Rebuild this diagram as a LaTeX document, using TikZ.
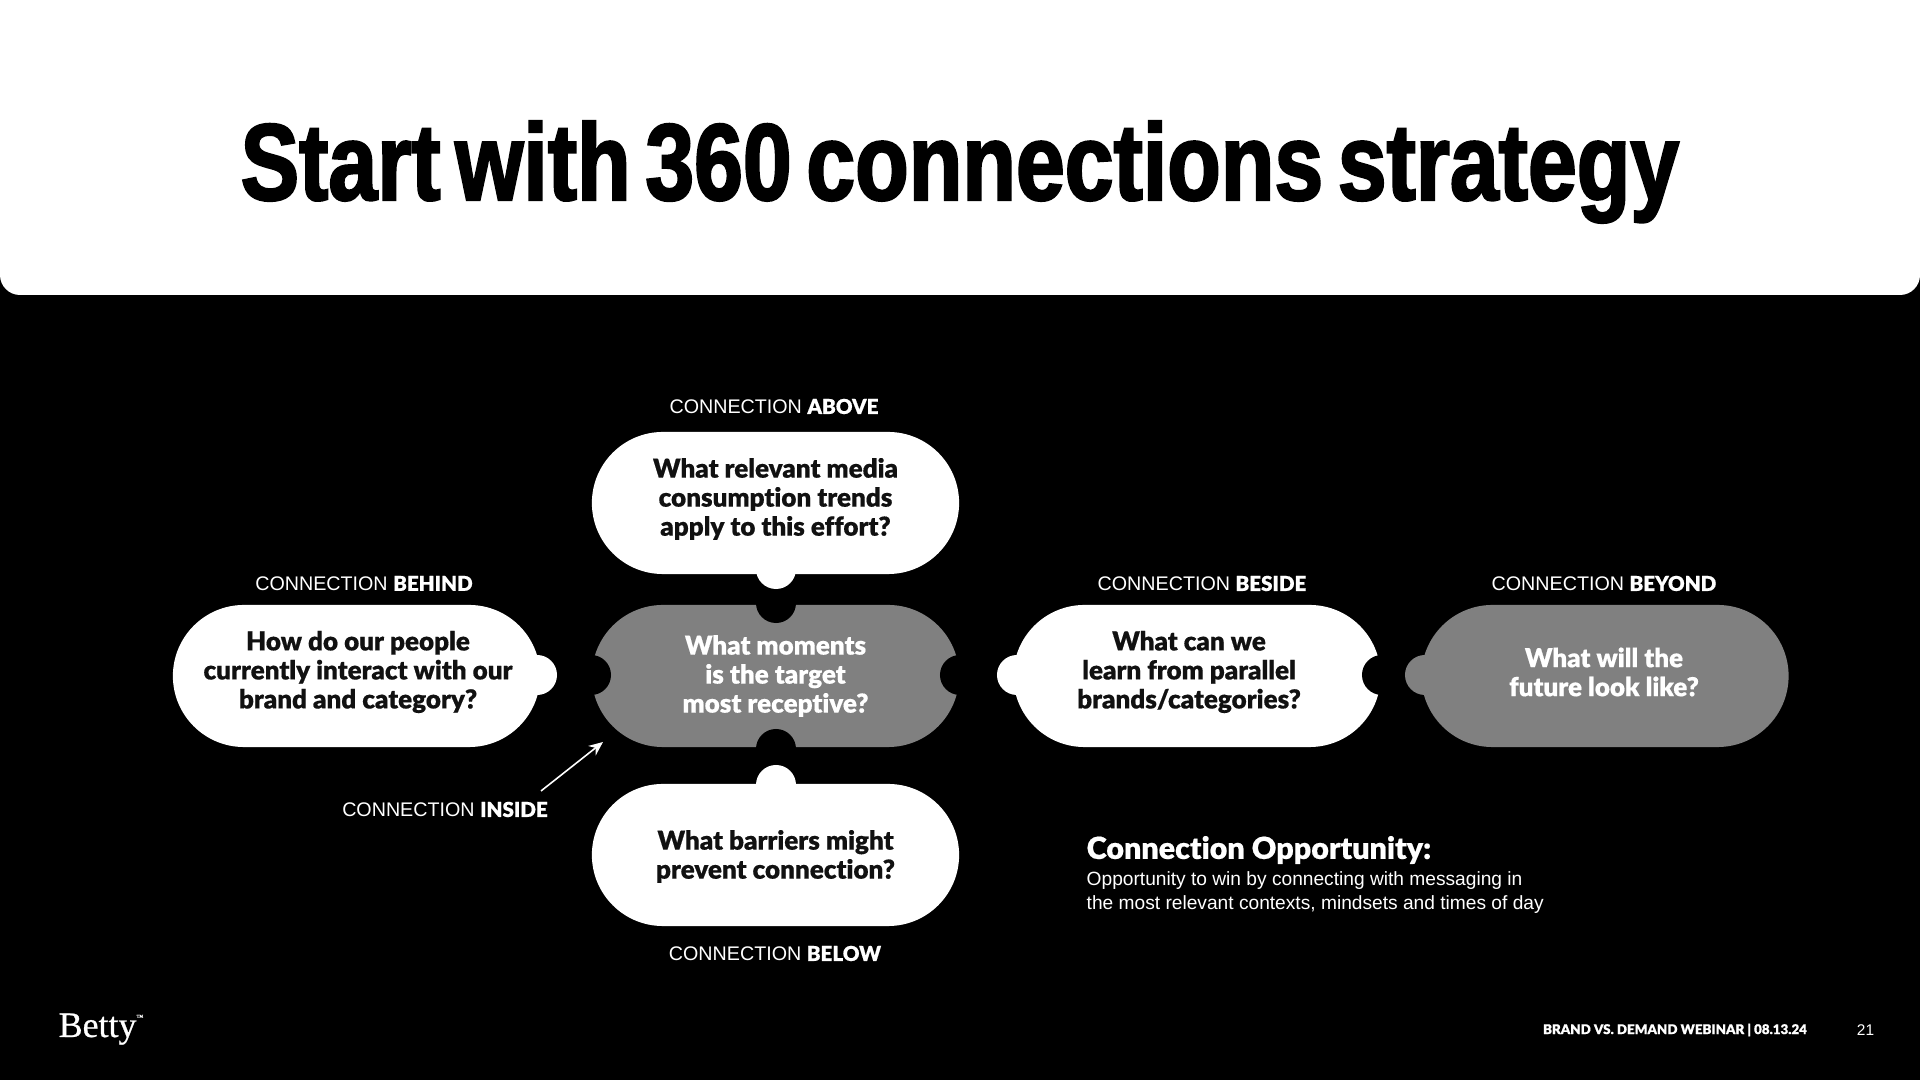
\documentclass[tikz,border=0pt]{standalone}
\usepackage{fontspec}
\usetikzlibrary{shapes.misc}
\usetikzlibrary{arrows.meta}
\setmainfont{Liberation Sans}
\newfontfamily\titlefont[FakeStretch=0.805,FakeBold=2,WordSpace=0.6]{Liberation Sans Bold}
\newfontfamily\heavyfont[Ligatures=NoCommon,FakeBold=0.5]{Lato Black}
\newfontfamily\logofont[FakeBold=0.7]{Liberation Serif}
\definecolor{pillgray}{HTML}{808080}
\definecolor{inkblack}{HTML}{111111}
\newcommand{\conn}[1]{CONNECTION {\heavyfont\fontsize{5.85pt}{6.6pt}\selectfont #1}}

\begin{document}
\begin{tikzpicture}[x=0.01cm, y=-0.01cm,
    pill/.style={rounded rectangle, fill=white, minimum width=3.67cm, minimum height=1.42cm, inner sep=0pt},
    graypill/.style={pill, fill=pillgray},
    pilltext/.style={text=inkblack, inner sep=0pt, align=center, font=\heavyfont\fontsize{7.4pt}{8.25pt}\selectfont},
    graytext/.style={pilltext, text=white},
    knob/.style={circle, fill=white, minimum size=0.4cm, inner sep=0pt},
    notch/.style={knob, fill=black},
    tag/.style={text=white, inner sep=0pt, font=\fontsize{5.6pt}{6.6pt}\selectfont}]
    % Background
    \fill[black] (0,0) rectangle (1920,1080);
    \fill[white] (0,0) -- (1920,0) [rounded corners=0.2cm] -- (1920,295) -- (0,295) [sharp corners] -- cycle;
    \node[text=black, inner sep=0pt, font=\titlefont\fontsize{31pt}{36pt}\selectfont] (title) at (960,172) {Start with 360 connections strategy};

    % Pills
    \node[pill] (above) at (775.5,503) {};
    \node[graypill] (inside) at (775.5,676) {};
    \node[pill] (below) at (775.5,855) {};
    \node[pill] (behind) at (356.5,676) {};
    \node[pill] (beside) at (1197,676) {};
    \node[graypill] (beyond) at (1605,676) {};

    % Notches
    \node[notch] (topnotch) at (776,603) {};
    \node[notch] (bottomnotch) at (776,749) {};
    \node[notch] (leftnotch) at (591,675) {};
    \node[notch] (rightnotch) at (960,675) {};
    \node[notch] (besidenotch) at (1382,675) {};

    % Knobs
    \node[knob] (aboveknob) at (776,569) {};
    \node[knob] (belowknob) at (776,785) {};
    \node[knob] (behindknob) at (537,675) {};
    \node[knob] (besideknob) at (1017,675) {};
    \node[knob, fill=pillgray] (beyondknob) at (1425,675) {};

    % Questions
    \node[pilltext] (abovetext) at (775.5,499) {What relevant media\\consumption trends\\apply to this effort?};
    \node[graytext] (insidetext) at (775.5,676) {What moments\\is the target\\most receptive?};
    \node[pilltext] (belowtext) at (775.5,856.5) {What barriers might\\prevent connection?};
    \node[pilltext] (behindtext) at (358,672) {How do our people\\currently interact with our\\brand and category?};
    \node[pilltext] (besidetext) at (1189,672) {What can we\\learn from parallel\\brands/categories?};
    \node[graytext] (beyondtext) at (1604,672) {What will the\\future look like?};

    % Labels
    \node[tag] (abovetag) at (774,406.5) {\conn{ABOVE}};
    \node[tag] (behindtag) at (364,583.5) {\conn{BEHIND}};
    \node[tag] (besidetag) at (1202,583.5) {\conn{BESIDE}};
    \node[tag] (beyondtag) at (1604,583.5) {\conn{BEYOND}};
    \node[tag] (insidetag) at (445,809.5) {\conn{INSIDE}};
    \node[tag] (belowtag) at (775,953.5) {\conn{BELOW}};

    % Opportunity
    \node[tag, anchor=west, font=\heavyfont\fontsize{8.65pt}{10pt}\selectfont] (opphead) at (1086,850) {Connection Opportunity:};
    \node[tag, anchor=north west, align=left, font=\fontsize{5.45pt}{6.9pt}\selectfont] (opptext) at (1086,870.5) {Opportunity to win by connecting with messaging in\\the most relevant contexts, mindsets and times of day};

    % Footer
    \node[text=white, inner sep=0pt, anchor=base west, font=\logofont\fontsize{10.2pt}{12pt}\selectfont] (logo) at (58,1037) {Betty\raisebox{5pt}{\fontsize{2pt}{2pt}\selectfont\texttrademark}};
    \node[tag, font=\heavyfont\fontsize{3.8pt}{5pt}\selectfont] (footer) at (1675,1030) {BRAND VS. DEMAND WEBINAR | 08.13.24};
    \node[tag, font=\fontsize{4.4pt}{5pt}\selectfont] (page) at (1865.5,1030) {21};

    % Edges
    \coordinate (arrowfrom) at (541,791);
    \coordinate (arrowto) at (603,742);
    \draw[white, line width=0.45pt, -{Stealth[length=0.14cm, width=0.12cm]}] (arrowfrom) -- (arrowto);
\end{tikzpicture}
\end{document}
